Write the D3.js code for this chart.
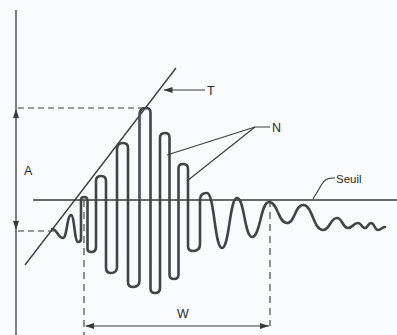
<!DOCTYPE html>
<html>
<head>
<meta charset="utf-8">
<script src="https://cdn.jsdelivr.net/npm/d3@7/dist/d3.min.js"></script>
<style>
  html, body { margin: 0; padding: 0; background: #fafbfc; }
  svg { display: block; }
</style>
</head>
<body>
<script>
// ---- data (time units / amplitude units) ----
const time      = [3.6, 4.7, 5.5, 6.2, 6.8, 7.5, 8.5, 9.5, 10.7, 11.7, 13.0, 13.9, 14.9, 15.8, 16.7, 17.7, 19.1, 20.6, 22.1, 23.6, 25.3, 27.1, 28.7, 30.7, 32.1, 33.2, 34.2, 34.9, 35.5, 36.2, 36.9];
const amplitude = [-0.3, -1.2, 1.1, -1.6, 2.9, -2.6, 5.0, -4.7, 8.3, -6.1, 11.8, -6.7, 9.3, -5.3, 6.2, -2.5, 3.3, -2.2, 2.8, -1.1, 2.4, 0.3, 2.1, -0.4, 0.8, -0.2, 0.3, -0.2, 0.3, -0.4, -0.1];
const threshold = 2.6;                 // "Seuil"
const envelopeTime = [0.9, 16.0];      // line T
const envelopeAmp  = [-3.9, 15.8];
const peakAmp = 11.8, startAmp = -0.5; // A
const firstCross = 6.8, lastCross = 25.4; // W
const labels = ["T", "N", "A", "W", "Seuil"];

const W = 397, H = 335;
const x = d3.scaleLinear().domain([0, 38.1]).range([16, 397]);
const y = d3.scaleLinear().domain([-11, 22]).range([336, 6]);

const svg = d3.select("body").append("svg").attr("width", W).attr("height", H);
svg.append("rect").attr("width", W).attr("height", H).attr("fill", "#fafbfc");

const ink = "#3a3a3a";
const line = d3.line().x(d => x(d[0])).y(d => y(d[1]));

// hand-drawn style oscillation: tall swings as narrow rounded loops, small ones as smooth bumps
function loopPath(data) {
  const pts = data.map(d => [x(d[0]), y(d[1])]);
  const p = d3.path();
  p.moveTo(pts[0][0], pts[0][1]);
  for (let i = 1; i < pts.length; i++) {
    const [x1, y1] = pts[i - 1], [x2, y2] = pts[i];
    const dx = x2 - x1, dy = y2 - y1, s = Math.sign(dy);
    if (Math.abs(dy) < 4 * Math.abs(dx)) {
      p.bezierCurveTo(x1 + dx * 0.5, y1, x2 - dx * 0.5, y2, x2, y2);
    } else {
      const r = Math.min(Math.abs(dx) * 0.5, Math.abs(dy) * 0.2);
      p.quadraticCurveTo(x1 + r, y1, x1 + r, y1 + s * r);
      p.lineTo(x2 - r, y2 - s * r);
      p.quadraticCurveTo(x2 - r, y2, x2, y2);
    }
  }
  return p.toString();
}

// vertical axis
svg.append("line").attr("x1", x(0)).attr("x2", x(0)).attr("y1", 10).attr("y2", H)
  .attr("stroke", ink).attr("stroke-width", 1.3);

// A arrowheads
function tri(px, py, dir) { // dir: -1 up, 1 down
  return `M${px},${py} L${px - 3},${py - dir * 9} L${px + 3},${py - dir * 9} Z`;
}
svg.append("path").attr("d", tri(x(0), y(peakAmp) + 1, -1)).attr("fill", ink);
svg.append("path").attr("d", tri(x(0), y(startAmp) - 1, 1)).attr("fill", ink);

// dashed helper lines
const dash = "6,4";
svg.append("path").attr("d", line([[0.2, peakAmp], [12.9, peakAmp]]))
  .attr("stroke", ink).attr("stroke-width", 1.1).attr("stroke-dasharray", dash).attr("fill", "none");
svg.append("path").attr("d", line([[0.2, startAmp], [3.9, startAmp]]))
  .attr("stroke", ink).attr("stroke-width", 1.1).attr("stroke-dasharray", dash).attr("fill", "none");
svg.append("path").attr("d", line([[firstCross, threshold], [firstCross, -11]]))
  .attr("stroke", ink).attr("stroke-width", 1.1).attr("stroke-dasharray", "7,5").attr("fill", "none");
svg.append("path").attr("d", line([[lastCross, threshold], [lastCross, -10]]))
  .attr("stroke", ink).attr("stroke-width", 1.1).attr("stroke-dasharray", "7,5").attr("fill", "none");

// threshold
svg.append("path").attr("d", line([[1.7, threshold], [38.1, threshold]]))
  .attr("stroke", ink).attr("stroke-width", 1.3).attr("fill", "none");

// envelope T
svg.append("path").attr("d", line(envelopeTime.map((t, i) => [t, envelopeAmp[i]])))
  .attr("stroke", ink).attr("stroke-width", 1.3).attr("fill", "none");

// W arrow
svg.append("path").attr("d", line([[firstCross + 0.2, -10], [lastCross - 0.1, -10]]))
  .attr("stroke", ink).attr("stroke-width", 1.2).attr("fill", "none");
function triH(px, py, dir) { // dir: -1 left, 1 right
  return `M${px},${py} L${px - dir * 9},${py - 3} L${px - dir * 9},${py + 3} Z`;
}
svg.append("path").attr("d", triH(x(firstCross) + 1, y(-10), -1)).attr("fill", ink);
svg.append("path").attr("d", triH(x(lastCross) - 1, y(-10), 1)).attr("fill", ink);

// signal
const sig = time.map((t, i) => [t, amplitude[i]]);
svg.append("path").attr("d", loopPath(sig))
  .attr("stroke", "#444").attr("stroke-width", 2.6).attr("fill", "none")
  .attr("stroke-linejoin", "round").attr("stroke-linecap", "round");

// blue pen mark on the up-stroke of the tallest peak
svg.append("clipPath").attr("id", "bc").append("rect").attr("x", 0).attr("width", W)
  .attr("y", y(11.3)).attr("height", y(2.6) - y(11.3));
svg.append("path").attr("clip-path", "url(#bc)")
  .attr("d", loopPath(sig.slice(9, 11)))
  .attr("stroke", "#3b55c8").attr("stroke-width", 1.2).attr("fill", "none");

// T pointer
svg.append("path").attr("d", line([[18.9, 13.6], [14.8, 13.6]])).attr("stroke", ink).attr("stroke-width", 1.1).attr("fill", "none");
svg.append("path").attr("d", triH(x(14.75), y(13.6), -1)).attr("fill", ink);

// N pointers
svg.append("path").attr("d", line([[15.1, 7.1], [23.9, 9.9], [25.4, 9.9]])).attr("stroke", ink).attr("stroke-width", 1.1).attr("fill", "none");
svg.append("path").attr("d", line([[17.1, 4.5], [23.9, 9.9]])).attr("stroke", ink).attr("stroke-width", 1.1).attr("fill", "none");

// Seuil pointer
svg.append("path").attr("d", d3.line().x(d => x(d[0])).y(d => y(d[1])).curve(d3.curveBasis)(
    [[29.7, 2.7], [30.3, 3.7], [30.8, 4.6], [31.4, 4.8], [31.9, 4.8]]))
  .attr("stroke", ink).attr("stroke-width", 1.1).attr("fill", "none");

// labels
const labelPos = [[19.1, 13.1], [25.6, 9.4], [0.8, 5.1], [16.1, -9.2], [32.0, 4.3]];
svg.append("g").selectAll("text").data(labels).join("text")
  .attr("x", (d, i) => x(labelPos[i][0])).attr("y", (d, i) => y(labelPos[i][1]))
  .attr("font-family", "Liberation Sans, Arial, sans-serif")
  .attr("font-size", (d) => d === "Seuil" ? 11.5 : 12.5)
  .attr("fill", "#2a2a2a").text(d => d);
</script>
</body>
</html>
